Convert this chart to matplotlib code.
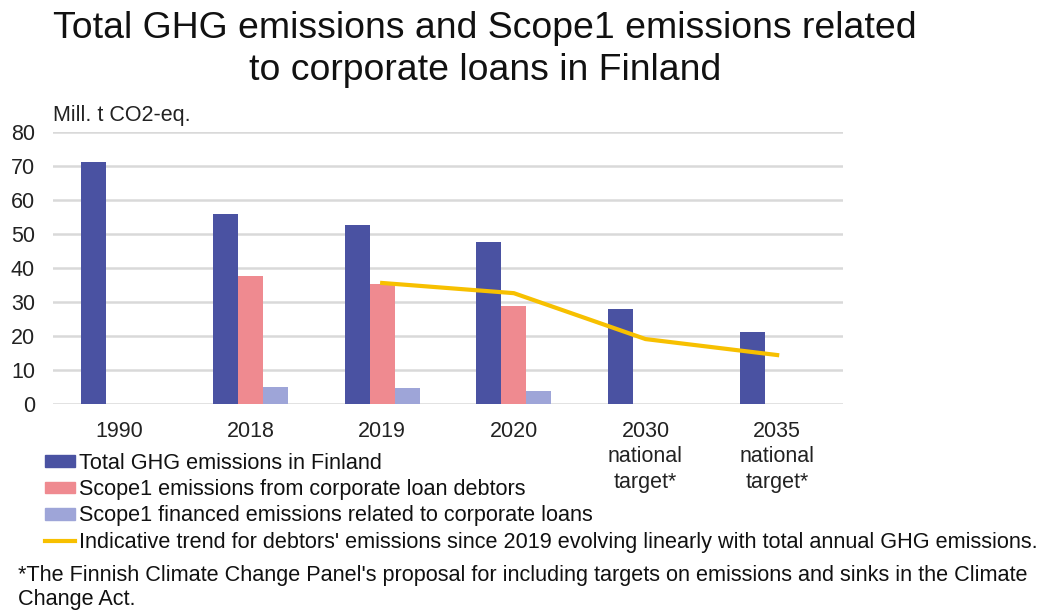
import numpy as np
import matplotlib.pyplot as plt
from matplotlib.patches import Patch
from matplotlib.lines import Line2D

plt.rcParams['font.family'] = ['Liberation Sans', 'DejaVu Sans']

categories = ['1990', '2018', '2019', '2020', '2030\nnational\ntarget*', '2035\nnational\ntarget*']
total_ghg = [71.2, 56.0, 52.7, 47.6, 27.9, 21.2]
scope1_debtors = [np.nan, 37.7, 35.3, 28.9, np.nan, np.nan]
scope1_financed = [np.nan, 4.9, 4.6, 3.8, np.nan, np.nan]
trend_idx = [2, 3, 4, 5]
trend_vals = [35.6, 32.6, 19.1, 14.4]

c_blue = '#4a52a2'
c_pink = '#ef8a90'
c_light = '#9ea5d8'
c_yellow = '#f7c000'

fig = plt.figure(figsize=(10.43, 6.10), dpi=100)
ax = fig.add_axes([53/1043, 1-404/610, (843-53)/1043, (404-132)/610])

x = np.arange(len(categories))
w = 0.19
ax.bar(x - w, total_ghg, w, color=c_blue, zorder=3)
ax.bar(x, scope1_debtors, w, color=c_pink, zorder=3)
ax.bar(x + w, scope1_financed, w, color=c_light, zorder=3)
ax.plot(trend_idx, trend_vals, color=c_yellow, lw=3, zorder=4)

ax.set_xlim(-0.5, len(categories) - 0.5)
ax.set_ylim(0, 80)
ax.set_yticks(range(0, 81, 10))
ax.set_xticks(x)
ax.set_xticklabels(categories, fontsize=15.5, color='#222222', linespacing=1.3)
ax.tick_params(axis='y', labelsize=15.5, colors='#222222', length=0, pad=13)
ax.tick_params(axis='x', length=0, pad=12)
ax.grid(axis='y', color='#d9d9d9', lw=1.8, zorder=0)
for s in ax.spines.values():
    s.set_visible(False)

fig.text(53/1043, 1-116/610, 'Mill. t CO2-eq.', fontsize=15.5, color='#222222', va='center')
fig.text(485/1043, 1-29/610, 'Total GHG emissions and Scope1 emissions related',
         fontsize=26.9, ha='center', va='center', color='#111111')
fig.text(485/1043, 1-70/610, 'to corporate loans in Finland',
         fontsize=26.9, ha='center', va='center', color='#111111')

handles = [Patch(color=c_blue), Patch(color=c_pink), Patch(color=c_light),
           Line2D([0], [0], color=c_yellow, lw=3)]
labels = ['Total GHG emissions in Finland',
          'Scope1 emissions from corporate loan debtors',
          'Scope1 financed emissions related to corporate loans',
          "Indicative trend for debtors' emissions since 2019 evolving linearly with total annual GHG emissions."]
fig.legend(handles, labels, loc='upper left', bbox_to_anchor=(45/1043, 1-453/610),
           frameon=False, fontsize=15.6, handlelength=1.4, handleheight=0.46,
           handletextpad=0.15, labelspacing=0.24, borderpad=0, borderaxespad=0,
           labelcolor='#111111')

fig.text(18/1043, 1-576/610,
         "*The Finnish Climate Change Panel's proposal for including targets on emissions and sinks in the Climate",
         fontsize=15.6, va='center', color='#111111')
fig.text(18/1043, 1-599/610, 'Change Act.', fontsize=15.6, va='center', color='#111111')

fig.savefig('out.png', dpi=100)
